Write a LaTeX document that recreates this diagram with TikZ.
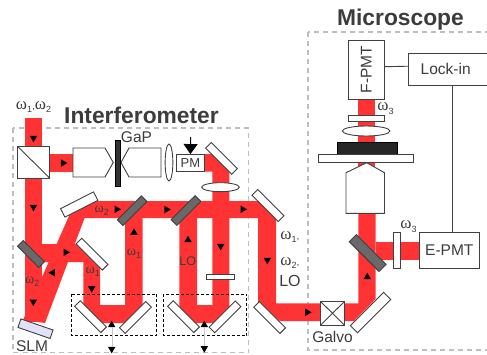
\documentclass[tikz,border=0pt]{standalone}
\usepackage{fontspec}
\setmainfont{Liberation Sans}
\newfontfamily\omegafont{Liberation Serif}
\usepackage{xcolor}
\usetikzlibrary{arrows.meta,shapes.geometric}
\definecolor{beamRed}{RGB}{255,51,51}
\definecolor{frameGray}{RGB}{190,190,190}
\definecolor{labelGray}{RGB}{60,60,60}
\definecolor{mirrorGray}{RGB}{105,105,105}
\definecolor{slmLilac}{RGB}{225,225,248}
\newcommand{\omlabel}[2]{{\fontsize{#2}{#2}\omegafont ω}\raisebox{-0.6ex}{\fontsize{9}{9}\selectfont #1}}

\begin{document}
\begin{tikzpicture}[
  x=1pt,y=-1pt,
  every node/.style={text=labelGray,inner sep=0pt,outer sep=0pt},
  beam/.style={fill=beamRed},
  frameline/.style={draw=frameGray,line width=1.5pt,dash pattern=on 5pt off 4pt},
  delaybox/.style={draw=black,line width=0.8pt,densely dashed},
  optic/.style={draw=black!75,line width=0.9pt,fill=white},
  mirror/.style={optic,minimum width=37pt,minimum height=8pt,rotate=#1},
  splitter/.style={draw=black!75,line width=0.9pt,fill=mirrorGray,minimum width=#1,minimum height=8pt},
  unitbox/.style={optic,font=\fontsize{15.5}{15.5}\selectfont},
  tip/.style={isosceles triangle,isosceles triangle stretches,fill=black,
    minimum height=6.5pt,minimum width=7.5pt,shape border rotate=#1},
  heading/.style={font=\fontsize{22.8}{22.8}\selectfont\bfseries},
  tag/.style={font=\fontsize{15.5}{15.5}\selectfont},
  smalltag/.style={font=\fontsize{12.5}{12.5}\selectfont}
]
  \useasboundingbox (0,0) rectangle (487,354);
  \clip (0,0) rectangle (487,354);

  % frames
  \draw[frameline] (13,128) rectangle (248.7,352.5);
  \draw[frameline] (308,32) rectangle (495,350);

  % beam paths
  \fill[beam] (24.7,118) rectangle (42.3,322);
  \fill[beam] (50,154) rectangle (73,171.7);
  \fill[beam] (72.5,208) -- (91,201) -- (45,323) -- (23,320) -- cycle;
  \fill[beam] (33,244) -- (77,244) -- (100,267) -- (100,305) -- (125,305) -- (125,201)
    -- (142.7,201) -- (142.7,310) -- (127,323) -- (98,323) -- (83.3,310) -- (83.3,262)
    -- (33,262) -- cycle;
  \fill[beam] (204,154) -- (221,154) -- (229.3,162) -- (229.3,310) -- (214,323) -- (194,323)
    -- (179.3,310) -- (179.3,218) -- (197,218) -- (197,305) -- (212.3,305) -- (212.3,171.7)
    -- (204,171.7) -- cycle;
  \fill[beam] (84,201) -- (264,201) -- (276,213) -- (276,303.3) -- (358.3,303.3)
    -- (358.3,213) -- (375.7,213) -- (375.7,299) -- (354,321) -- (280,321) -- (258,303)
    -- (258,218) -- (84,218) -- cycle;
  \fill[beam] (375.7,242.3) rectangle (420,260);
  \fill[beam] (357.7,99) rectangle (375.3,142);
  \fill[beam] (357.7,160) rectangle (375.3,172);

  % delay stages
  \draw[delaybox] (71.7,294) rectangle (156.7,335.7);
  \draw[delaybox] (163.3,294) rectangle (246.7,335.7);

  % mirrors
  \node[mirror=-45] (mirrorpm) at (221.5,158.3) {};
  \node[mirror=27,minimum height=9.5pt] (mirrorup) at (79.2,204.5) {};
  \node[mirror=-45] (mirrormid) at (92,254.2) {};
  \node[mirror=-45] (stageal) at (90.5,316.7) {};
  \node[mirror=45] (stagear) at (135.4,317.4) {};
  \node[mirror=-45] (stagebl) at (183.5,316.7) {};
  \node[mirror=45] (stagebr) at (225,316.8) {};
  \node[mirror=-45] (mirrorout) at (268,205.5) {};
  \node[mirror=-45] (mirrorlow) at (269.7,317.5) {};
  \node[mirror=45,minimum width=47pt,minimum height=10pt] (mirrorgalvo) at (370.6,312.5) {};

  % dichroics
  \node[splitter=30pt,rotate=-45] (dichroicslm) at (31,254) {};
  \node[splitter=34pt,rotate=45] (dichroica) at (132.2,210.7) {};
  \node[splitter=34pt,rotate=45] (dichroicb) at (186,210.5) {};
  \node[splitter=42pt,rotate=-45,minimum height=10pt] (dichroicmic) at (367.7,253) {};

  % slm and polarising cube
  \node[draw=black!75,line width=0.9pt,fill=slmLilac,minimum width=34pt,minimum height=9pt,rotate=-19] (slm) at (35.5,328.7) {};
  \node[optic,minimum width=32pt,minimum height=31.5pt] (cube) at (33.7,162.3) {};
  \draw[draw=black!75,line width=0.9pt] (cube.north west) -- (cube.south east);

  % frequency doubling
  \draw[optic] (73,148) -- (105,148) -- (113.3,162.5) -- (105,177) -- (73,177) -- cycle;
  \draw[optic] (161,148) -- (129,148) -- (121,162.5) -- (129,177) -- (161,177) -- cycle;
  \node[draw=black,fill=black!80,minimum width=5.3pt,minimum height=46pt] (gap) at (117.4,163) {};
  \node[optic,ellipse,minimum width=7.7pt,minimum height=37pt] (lensa) at (169,162.5) {};
  \node[unitbox,minimum width=27.3pt,minimum height=17.7pt,font=\fontsize{13}{13}\selectfont] (pm) at (190.4,162.9) {PM};
  \coordinate (pmin) at (190.7,137);
  \draw[-{Triangle[length=10pt,width=14pt]},line width=1pt] (pmin) -- (pm.north);
  \node[optic,ellipse,minimum width=37.6pt,minimum height=9pt] (lensb) at (220.5,187.2) {};
  \node[optic,minimum width=28.3pt,minimum height=5.3pt] (plate) at (220.2,276.7) {};

  % microscope
  \node[unitbox,minimum width=36pt,minimum height=59.3pt] (fpmt) at (366.3,69.7) {\rotatebox{90}{F-PMT}};
  \node[unitbox,minimum width=87pt,minimum height=31.7pt,inner xsep=12pt,text width=63pt,align=left] (lockin) at (452.2,69.2) {Lock-in};
  \node[unitbox,minimum width=60pt,minimum height=36pt] (epmt) at (449.3,250.3) {E-PMT};
  \node[optic,minimum width=36pt,minimum height=6pt] (filtera) at (366.3,118) {};
  \node[optic,ellipse,minimum width=47.7pt,minimum height=10pt] (tubelens) at (366.2,131) {};
  \node[draw=black,fill=black!85,minimum width=59.4pt,minimum height=12.3pt] (sample) at (367,147.9) {};
  \node[optic,minimum width=95pt,minimum height=8.7pt] (slide) at (365.8,158.4) {};
  \draw[optic] (346,213.3) -- (346,172.7) -- (366.7,162.7) -- (384.5,172.7) -- (384.5,213.3) -- cycle;
  \node[optic,minimum width=7pt,minimum height=36pt] (filterb) at (396.8,250.3) {};
  \node[optic,minimum width=23.6pt,minimum height=23.3pt] (galvo) at (332.5,313.3) {};
  \draw[draw=black!75,line width=0.9pt] (galvo.north west) -- (galvo.south east);
  \draw[draw=black!75,line width=0.9pt] (galvo.north east) -- (galvo.south west);

  % signal lines
  \draw[black!75,line width=0.9pt] ([yshift=3pt]fpmt.east) -- ([yshift=3pt]lockin.west);
  \draw[black!75,line width=0.9pt] (lockin.south) -- (lockin.south |- epmt.north);

  % direction marks
  \node[tip=-90] (tipa) at (33.5,138) {};
  \node[tip=0] (tipb) at (63,163) {};
  \node[tip=-90] (tipc) at (33.5,207) {};
  \node[tip=0] (tipd) at (65.7,252.3) {};
  \node[tip=180] (tipe) at (52.7,272.7) {};
  \node[tip=-90] (tipf) at (33.3,301.7) {};
  \node[tip=0] (tipg) at (116.7,209.3) {};
  \node[tip=0] (tiph) at (166.5,209.5) {};
  \node[tip=90] (tipi) at (134,232.7) {};
  \node[tip=-90] (tipj) at (91.7,288.3) {};
  \node[tip=90] (tipk) at (111.7,325) {};
  \node[tip=-90] (tipl) at (111.7,349) {};
  \node[tip=0] (tipm) at (242.7,209.3) {};
  \node[tip=90] (tipn) at (188,240) {};
  \node[tip=-90] (tipo) at (220.7,246) {};
  \node[tip=-90] (tipp) at (267.3,260) {};
  \node[tip=0] (tipq) at (307.3,312.3) {};
  \node[tip=90] (tipr) at (204.3,325) {};
  \node[tip=-90] (tips) at (204.3,348.3) {};
  \node[tip=90] (tipt) at (367.3,277) {};
  \draw[black!22,line width=0.4pt] (tipk) -- (tipl);
  \draw[black!22,line width=0.4pt] (tipr) -- (tips);

  % headings and labels
  \node[heading] (titlea) at (141.5,115) {Interferometer};
  \node[heading] (titleb) at (400.5,20) {Microscope};
  \node (inlabel) at (33.5,107) {\omlabel{1}{17},\omlabel{2}{17}};
  \node[tag] (gaplabel) at (136.5,137.5) {GaP};
  \node[tag] (slmlabel) at (32,346) {SLM};
  \node[tag] (galvolabel) at (332.5,337) {Galvo};
  \node[font=\fontsize{16}{16}\selectfont] (lolabel) at (290,280.7) {LO};
  \node[smalltag] (lobeam) at (187.7,260.7) {LO};
  \node (omegaa) at (289.8,237) {\omlabel{1}{17},};
  \node (omegab) at (289.8,262.7) {\omlabel{2}{17},};
  \node (omegac) at (385.5,108.5) {\omlabel{3}{17}};
  \node (omegad) at (408.5,226.5) {\omlabel{3}{17}};
  \node (beama) at (101.7,210.5) {\omlabel{2}{14}};
  \node (beamb) at (92.7,271.7) {\omlabel{1}{14}};
  \node (beamc) at (134,253.5) {\omlabel{1}{14}};
  \node (beamd) at (32.3,282) {\omlabel{2}{14}};
\end{tikzpicture}
\end{document}
